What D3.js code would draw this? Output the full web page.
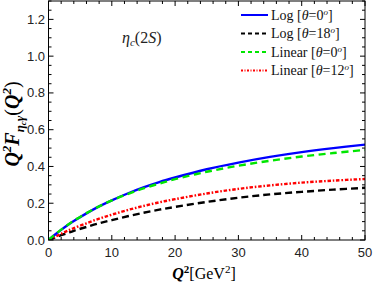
<!DOCTYPE html>
<html><head><meta charset="utf-8">
<script src="https://cdn.jsdelivr.net/npm/d3@7"></script>
<style>body{margin:0;background:#fff}svg{display:block}</style>
</head><body>
<script>
const q2 = [0,1,2,3,4,6,8,10,12.5,15,17.5,20,25,30,35,40,45,50];
const logTheta0  = [0,0.0286,0.0552,0.080,0.103,0.145,0.183,0.216,0.253,0.286,0.315,0.340,0.385,0.421,0.452,0.478,0.500,0.519];
const logTheta18 = [0,0.013,0.026,0.038,0.050,0.071,0.091,0.108,0.129,0.148,0.165,0.180,0.207,0.230,0.248,0.262,0.274,0.284];
const linTheta0  = [0,0.0294,0.0565,0.0815,0.105,0.146,0.183,0.215,0.250,0.281,0.307,0.331,0.371,0.404,0.431,0.454,0.473,0.490];
const linTheta12 = [0,0.017,0.034,0.050,0.065,0.091,0.116,0.138,0.163,0.185,0.205,0.222,0.253,0.278,0.297,0.312,0.323,0.332];
const xTicks = [0,10,20,30,40,50];
const yTicks = [0.0,0.2,0.4,0.6,0.8,1.0,1.2];

const W=374,H=286;
const svg=d3.select("body").append("svg").attr("width",W).attr("height",H);
const m={l:48.5,r:365,t:1,b:240};
const x=d3.scaleLinear().domain([0,50]).range([m.l,m.r]);
const y=d3.scaleLinear().domain([0,1.3]).range([m.b,m.t]);

const series=[
 {name:"Log",th:"0",vals:logTheta0,color:"#0000ff",dash:null,w:2.4},
 {name:"Log",th:"18",vals:logTheta18,color:"#000000",dash:"7,4",w:2.4},
 {name:"Linear",th:"0",vals:linTheta0,color:"#00e600",dash:"7,4.5",w:2.4},
 {name:"Linear",th:"12",vals:linTheta12,color:"#ff0000",dash:"3.5,1.8,1.6,1.8",w:2.4}
];
const line=d3.line().x((d,i)=>x(q2[i])).y(d=>y(d)).curve(d3.curveCatmullRom);
svg.append("clipPath").attr("id","c").append("rect").attr("x",m.l).attr("y",m.t).attr("width",m.r-m.l).attr("height",m.b-m.t);
const g=svg.append("g").attr("clip-path","url(#c)");
[1,3,0,2].forEach(k=>{const s=series[k];
 g.append("path").datum(s.vals).attr("d",line).attr("fill","none").attr("stroke",s.color)
  .attr("stroke-width",s.w).attr("stroke-dasharray",s.dash);
});

// frame & ticks
const fr=svg.append("g");
fr.append("rect").attr("x",m.l).attr("y",m.t).attr("width",m.r-m.l).attr("height",m.b-m.t).attr("fill","none").attr("stroke","#000").attr("stroke-width",1);
const xMinor=d3.range(0,50.01,2), yMinor=d3.range(0,1.301,0.05);
xMinor.forEach(v=>{const maj=Math.abs(v%10)<1e-6; const L=maj?5:3;
 fr.append("line").attr("x1",x(v)).attr("x2",x(v)).attr("y1",m.b).attr("y2",m.b-L).attr("stroke","#000");
 fr.append("line").attr("x1",x(v)).attr("x2",x(v)).attr("y1",m.t).attr("y2",m.t+L).attr("stroke","#000");
});
yMinor.forEach(v=>{const r=Math.round(v*100); const maj=r%20===0; const L=maj?5:3;
 fr.append("line").attr("x1",m.l).attr("x2",m.l+L).attr("y1",y(v)).attr("y2",y(v)).attr("stroke","#000");
 fr.append("line").attr("x1",m.r).attr("x2",m.r-L).attr("y1",y(v)).attr("y2",y(v)).attr("stroke","#000");
});
const tf="'Liberation Sans',Arial,sans-serif";
xTicks.forEach(v=>svg.append("text").attr("x",x(v)).attr("y",257).attr("text-anchor","middle")
 .attr("font-family",tf).attr("font-size",13).attr("fill","#222").text(v));
yTicks.forEach(v=>svg.append("text").attr("x",45).attr("y",y(v)+4.5).attr("text-anchor","end")
 .attr("font-family",tf).attr("font-size",13).attr("fill","#222").text(v.toFixed(1)));

const sf="'Liberation Serif','Times New Roman',serif";
// x label
const xl=svg.append("text").attr("x",204).attr("y",279).attr("text-anchor","middle").attr("font-family",sf).attr("font-size",16);
xl.append("tspan").attr("font-weight","bold").attr("font-style","italic").text("Q");
xl.append("tspan").attr("font-weight","bold").attr("font-size",11).attr("dy",-6).text("2");
xl.append("tspan").attr("dy",6).text("[GeV");
xl.append("tspan").attr("font-size",11).attr("dy",-6).text("2");
xl.append("tspan").attr("dy",6).text("]");
// y label
const yl=svg.append("text").attr("transform","translate(19,124) rotate(-90)").attr("text-anchor","middle")
 .attr("font-family",sf).attr("font-size",20).attr("font-weight","bold").attr("font-style","italic");
yl.append("tspan").text("Q");
yl.append("tspan").attr("font-size",13).attr("dy",-8).text("2");
yl.append("tspan").attr("dy",8).text("F");
yl.append("tspan").attr("font-size",13).attr("dy",5).text("η");
yl.append("tspan").attr("font-size",9).attr("dy",2).text("c");
yl.append("tspan").attr("font-size",13).attr("dy",-2).text("γ");
yl.append("tspan").attr("dy",-5).attr("font-weight","normal").attr("font-style","normal").text("(");
yl.append("tspan").text("Q");
yl.append("tspan").attr("font-size",13).attr("dy",-8).text("2");
yl.append("tspan").attr("dy",8).attr("font-weight","normal").attr("font-style","normal").text(")");

// title
const tt=svg.append("text").attr("x",122).attr("y",43).attr("font-family",sf).attr("font-size",16).attr("fill","#222");
tt.append("tspan").attr("font-style","italic").text("η");
tt.append("tspan").attr("font-style","italic").attr("font-size",11).attr("dy",3).text("c");
tt.append("tspan").attr("dy",-3).text("(2");
tt.append("tspan").attr("font-style","italic").text("S");
tt.append("tspan").text(")");

// legend
const ly=[15,33.5,52,70.5];
series.forEach((s,i)=>{
 svg.append("line").attr("x1",241).attr("x2",268).attr("y1",ly[i]).attr("y2",ly[i]).attr("stroke",s.color)
  .attr("stroke-width",2).attr("stroke-dasharray",s.dash?(i==3?"2,1.5,1,1.5":"4,3"):null);
 const t=svg.append("text").attr("x",271).attr("y",ly[i]+4.5).attr("font-family",sf).attr("font-size",14).attr("fill","#111");
 t.append("tspan").text(s.name+" [");
 t.append("tspan").attr("font-style","italic").text("θ");
 t.append("tspan").text("="+s.th);
 t.append("tspan").attr("font-style","italic").attr("font-size",9).attr("dy",-5).text("o");
 t.append("tspan").attr("dy",5).text("]");
});
</script>
</body></html>
